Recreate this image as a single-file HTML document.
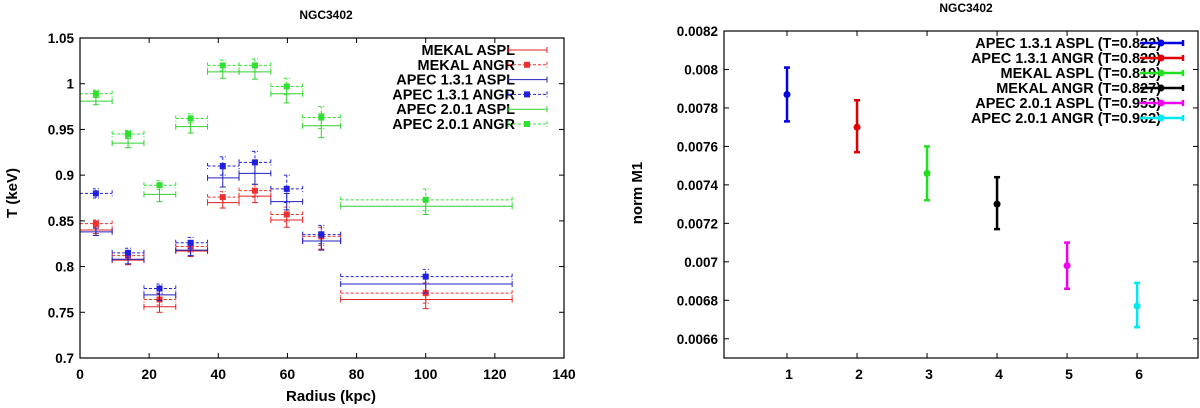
<!DOCTYPE html>
<html><head><meta charset="utf-8"><style>
body{margin:0;background:#fff;}
svg{display:block;font-family:"Liberation Sans",sans-serif;font-weight:bold;}
</style></head><body>
<svg id="c" width="1200" height="408" viewBox="0 0 1200 408"></svg>
<script>
// ---- left chart data ----
const binLo=[0,9.3,18.5,27.7,36.9,46,55.2,64.4,75.4];
const binHi=[9.3,18.5,27.7,36.9,46,55.2,64.4,75.4,125];
const xCenter=[4.6,13.9,23,32,41.3,50.6,59.8,69.8,100];
const mekalAspl=[0.840,0.807,0.756,0.817,0.870,0.877,0.851,0.828,0.764];
const mekalAsplErr=[0.004,0.005,0.006,0.006,0.006,0.007,0.008,0.009,0.010];
const mekalAngr=[0.847,0.812,0.764,0.822,0.876,0.883,0.857,0.833,0.771];
const mekalAngrErr=[0.004,0.005,0.006,0.006,0.006,0.007,0.008,0.010,0.011];
const apec131Aspl=[0.838,0.808,0.769,0.818,0.897,0.902,0.871,0.828,0.781];
const apec131AsplErr=[0.004,0.005,0.006,0.006,0.010,0.012,0.009,0.010,0.010];
const apec131Angr=[0.880,0.815,0.776,0.826,0.910,0.914,0.885,0.835,0.789];
const apec131AngrErr=[0.005,0.005,0.005,0.006,0.010,0.012,0.015,0.010,0.008];
const apec201Aspl=[0.981,0.935,0.879,0.953,1.013,1.013,0.989,0.954,0.866];
const apec201AsplErr=[0.004,0.005,0.008,0.007,0.007,0.008,0.010,0.013,0.009];
const apec201Angr=[0.989,0.945,0.889,0.962,1.020,1.020,0.997,0.963,0.873];
const apec201AngrErr=[0.004,0.004,0.005,0.005,0.006,0.007,0.009,0.012,0.012];
const leftXTicks=[0,20,40,60,80,100,120,140];
const leftYTicks=[0.7,0.75,0.8,0.85,0.9,0.95,1,1.05];
const leftYTickLabels=["0.7","0.75","0.8","0.85","0.9","0.95","1","1.05"];
// ---- right chart data ----
const modelIdx=[1,2,3,4,5,6];
const normVal=[0.00787,0.00770,0.00746,0.00730,0.00698,0.00677];
const normLo=[0.00773,0.00757,0.00732,0.00717,0.00686,0.00666];
const normHi=[0.00801,0.00784,0.00760,0.00744,0.00710,0.00689];
const modelLabels=["APEC 1.3.1 ASPL (T=0.822)","APEC 1.3.1 ANGR (T=0.829)","MEKAL ASPL (T=0.819)","MEKAL ANGR (T=0.827)","APEC 2.0.1 ASPL (T=0.953)","APEC 2.0.1 ANGR (T=0.962)"];
const rightYTicks=[0.0066,0.0068,0.007,0.0072,0.0074,0.0076,0.0078,0.008,0.0082];
const rightYTickLabels=["0.0066","0.0068","0.007","0.0072","0.0074","0.0076","0.0078","0.008","0.0082"];
const rightXTicks=[1,2,3,4,5,6];

const NS="http://www.w3.org/2000/svg";
const svg=document.getElementById('c');
function el(tag,attrs,parent,text){const e=document.createElementNS(NS,tag);for(const k in attrs)e.setAttribute(k,attrs[k]);if(text!==undefined)e.textContent=text;(parent||svg).appendChild(e);return e;}

// ===== LEFT =====
const L={x0:80,x1:564,y0:358,y1:38,xmin:0,xmax:140,ymin:0.7,ymax:1.05};
const lx=v=>L.x0+(v-L.xmin)/(L.xmax-L.xmin)*(L.x1-L.x0);
const ly=v=>L.y0-(v-L.ymin)/(L.ymax-L.ymin)*(L.y0-L.y1);
const gL=el('g',{});


const t1=el('text',{x:326,y:19,'text-anchor':'middle','font-size':12},gL,'NGC3402');

leftXTicks.forEach(v=>{const x=lx(v);
 el('line',{x1:x,x2:x,y1:L.y0,y2:L.y0-5,stroke:'#000'},gL);
 el('line',{x1:x,x2:x,y1:L.y1,y2:L.y1+5,stroke:'#000'},gL);
 const t=el('text',{x:x,y:379,'text-anchor':'middle','font-size':14},gL,String(v));
 });
leftYTicks.forEach((v,i)=>{const y=ly(v);
 el('line',{x1:L.x0,x2:L.x0+5,y1:y,y2:y,stroke:'#000'},gL);
 el('line',{x1:L.x1,x2:L.x1-5,y1:y,y2:y,stroke:'#000'},gL);
 const t=el('text',{x:74,y:y+5,'text-anchor':'end','font-size':13.5},gL,leftYTickLabels[i]);
 });
const xt=el('text',{x:331,y:401,'text-anchor':'middle','font-size':15},gL,'Radius (kpc)');

const yt=el('text',{x:0,y:0,'text-anchor':'middle','font-size':15,transform:'translate(17,193) rotate(-90)'},gL,'T (keV)');


const leftSeries=[
 {n:'MEKAL ASPL',v:mekalAspl,e:mekalAsplErr,c:'#e02020',dash:false},
 {n:'MEKAL ANGR',v:mekalAngr,e:mekalAngrErr,c:'#f03030',dash:true},
 {n:'APEC 1.3.1 ASPL',v:apec131Aspl,e:apec131AsplErr,c:'#2020c0',dash:false},
 {n:'APEC 1.3.1 ANGR',v:apec131Angr,e:apec131AngrErr,c:'#2020e0',dash:true},
 {n:'APEC 2.0.1 ASPL',v:apec201Aspl,e:apec201AsplErr,c:'#30d030',dash:false},
 {n:'APEC 2.0.1 ANGR',v:apec201Angr,e:apec201AngrErr,c:'#30e030',dash:true}];
leftSeries.forEach((s,si)=>{
 const g=el('g',{},gL);
 
 
 const st={stroke:s.c,'stroke-width':1};if(s.dash)st['stroke-dasharray']='3,2';
 s.v.forEach((v,i)=>{
  const y=ly(v),xa=lx(binLo[i]),xb=lx(binHi[i]),xc=lx(xCenter[i]),ya=ly(v-s.e[i]),yb=ly(v+s.e[i]);
  el('line',Object.assign({x1:xa,x2:xb,y1:y,y2:y},st),g);
  el('line',Object.assign({x1:xa,x2:xa,y1:y-3,y2:y+3},st),g);
  el('line',Object.assign({x1:xb,x2:xb,y1:y-3,y2:y+3},st),g);
  el('line',Object.assign({x1:xc,x2:xc,y1:ya,y2:yb},st),g);
  el('line',Object.assign({x1:xc-3,x2:xc+3,y1:ya,y2:ya},st),g);
  el('line',Object.assign({x1:xc-3,x2:xc+3,y1:yb,y2:yb},st),g);
  if(s.dash){const r=el('rect',{x:xc-3,y:y-3,width:6,height:6,fill:s.c},g);
   }
 });
 const ry=50+si*14.8;
 const lt=el('text',{x:515,y:ry+5,'text-anchor':'end','font-size':14.5},gL,s.n);
 
 el('line',Object.assign({x1:508,x2:547,y1:ry,y2:ry},st),gL);
 el('line',Object.assign({x1:508,x2:508,y1:ry-3,y2:ry+3},st),gL);
 el('line',Object.assign({x1:547,x2:547,y1:ry-3,y2:ry+3},st),gL);
 if(s.dash)el('rect',{x:524,y:ry-3,width:6,height:6,fill:s.c},gL);
});
const f1=el('rect',{x:L.x0,y:L.y1,width:L.x1-L.x0,height:L.y0-L.y1,fill:'none',stroke:'#000','stroke-width':1.2},gL);


// ===== RIGHT =====
const R={x0:724,x1:1198,y0:358,y1:31,xmin:0.1,xmax:6.87,ymin:0.0065,ymax:0.0082};
const rx=v=>R.x0+(v-R.xmin)/(R.xmax-R.xmin)*(R.x1-R.x0);
const ry=v=>R.y0-(v-R.ymin)/(R.ymax-R.ymin)*(R.y0-R.y1);
const gR=el('g',{});


const t2=el('text',{x:966,y:12,'text-anchor':'middle','font-size':12},gR,'NGC3402');

rightXTicks.forEach(v=>{const x=rx(v);
 el('line',{x1:x,x2:x,y1:R.y0,y2:R.y0-5,stroke:'#000'},gR);
 el('line',{x1:x,x2:x,y1:R.y1,y2:R.y1+5,stroke:'#000'},gR);
 const t=el('text',{x:x+2,y:379,'text-anchor':'middle','font-size':14},gR,String(v));
 });
rightYTicks.forEach((v,i)=>{const y=ry(v);
 el('line',{x1:R.x0,x2:R.x0+5,y1:y,y2:y,stroke:'#000'},gR);
 el('line',{x1:R.x1,x2:R.x1-5,y1:y,y2:y,stroke:'#000'},gR);
 const t=el('text',{x:718,y:y+5,'text-anchor':'end','font-size':13.5},gR,rightYTickLabels[i]);
 });
const yt2=el('text',{x:0,y:0,'text-anchor':'middle','font-size':15,transform:'translate(642,193) rotate(-90)'},gR,'norm M1');

const colors=['#0000e0','#e00000','#20e020','#000000','#f000f0','#00e8f0'];
modelIdx.forEach((m,i)=>{
 const g=el('g',{},gR);
 
 
 const c=colors[i],x=rx(m),ya=ry(normLo[i]),yb=ry(normHi[i]),y=ry(normVal[i]);
 el('line',{x1:x,x2:x,y1:ya,y2:yb,stroke:c,'stroke-width':2.5},g);
 el('line',{x1:x-3,x2:x+3,y1:ya,y2:ya,stroke:c,'stroke-width':2.5},g);
 el('line',{x1:x-3,x2:x+3,y1:yb,y2:yb,stroke:c,'stroke-width':2.5},g);
 el('circle',{cx:x,cy:y,r:3.5,fill:c},g);
 const ly2=43+i*15;
 const lt=el('text',{x:1161,y:ly2+5,'text-anchor':'end','font-size':14.5},gR,modelLabels[i]);
 
 el('line',{x1:1140,x2:1183,y1:ly2,y2:ly2,stroke:c,'stroke-width':2.5},gR);
 el('line',{x1:1183,x2:1183,y1:ly2-3,y2:ly2+3,stroke:c,'stroke-width':2.5},gR);
 el('circle',{cx:1161,cy:ly2,r:3.5,fill:c},gR);
});
const f2=el('rect',{x:R.x0,y:R.y1,width:R.x1-R.x0,height:R.y0-R.y1,fill:'none',stroke:'#000','stroke-width':1.2},gR);

</script>
</body></html>
